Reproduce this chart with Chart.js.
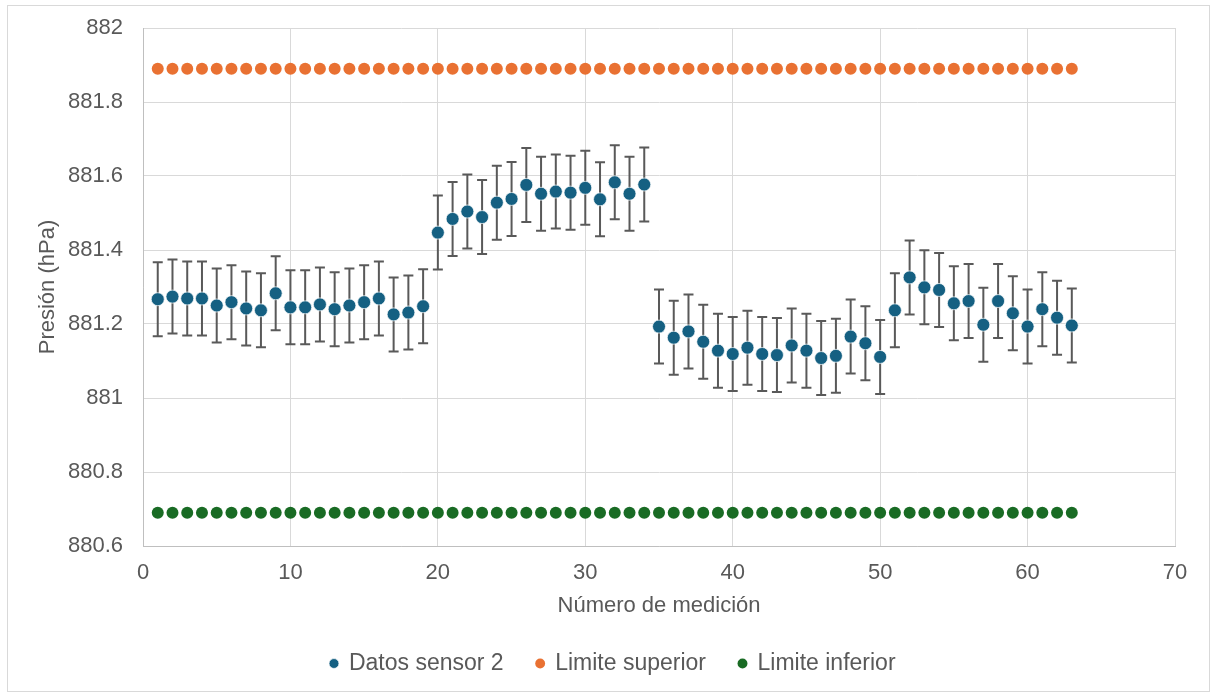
<!DOCTYPE html>
<html>
<head>
<meta charset="utf-8">
<script src="https://cdn.jsdelivr.net/npm/chart.js@4.4.1/dist/chart.umd.min.js"></script>
<style>
  html, body { margin: 0; padding: 0; background: #fff; }
  #wrap { position: relative; width: 1210px; height: 694px; }
  #marco { position: absolute; left: 7px; top: 5px; width: 1201px; height: 685px; border: 1px solid #d9d9d9; pointer-events: none; }
</style>
</head>
<body>
<div id="wrap">
  <canvas id="grafico" width="1210" height="694"></canvas>
  <div id="marco"></div>
</div>
<script>
// Número de medición
const medicion = [1, 2, 3, 4, 5, 6, 7, 8, 9, 10, 11, 12, 13, 14, 15, 16, 17, 18, 19, 20,
  21, 22, 23, 24, 25, 26, 27, 28, 29, 30, 31, 32, 33, 34, 35, 36, 37, 38, 39, 40,
  41, 42, 43, 44, 45, 46, 47, 48, 49, 50, 51, 52, 53, 54, 55, 56, 57, 58, 59, 60,
  61, 62, 63];

const sensor2 = [881.267, 881.274, 881.269, 881.269, 881.250, 881.259, 881.242, 881.237, 881.283, 881.245,
  881.245, 881.253, 881.240, 881.250, 881.259, 881.269, 881.226, 881.231, 881.248, 881.447,
  881.484, 881.504, 881.489, 881.528, 881.538, 881.576, 881.552, 881.558, 881.555, 881.568,
  881.537, 881.583, 881.552, 881.577, 881.193, 881.163, 881.180, 881.152, 881.128, 881.119,
  881.136, 881.119, 881.116, 881.142, 881.128, 881.108, 881.114, 881.166, 881.148, 881.111,
  881.237, 881.326, 881.299, 881.292, 881.256, 881.262, 881.198, 881.262, 881.229, 881.193,
  881.240, 881.217, 881.196];

const errorSensor = 0.1;      // barra de error +/- (hPa)
const limiteSuperior = 881.89;
const limiteInferior = 880.69;

const yTicks = ['880.6', '880.8', '881', '881.2', '881.4', '881.6', '881.8', '882'];
const xTicks = ['0', '10', '20', '30', '40', '50', '60', '70'];

const gris = '#595959';
const fuente = "'Liberation Sans', Arial, sans-serif";

// Barras de error (se dibujan antes que los puntos)
const barrasError = {
  id: 'barrasError',
  beforeDatasetsDraw(chart) {
    const ctx = chart.ctx;
    const meta = chart.getDatasetMeta(0);
    const ys = chart.scales.y;
    ctx.save();
    ctx.strokeStyle = gris;
    ctx.lineWidth = 2;
    meta.data.forEach((pt, i) => {
      const v = sensor2[i];
      const top = ys.getPixelForValue(v + errorSensor);
      const bot = ys.getPixelForValue(v - errorSensor);
      ctx.beginPath();
      ctx.moveTo(pt.x, top); ctx.lineTo(pt.x, bot);
      ctx.moveTo(pt.x - 5, top); ctx.lineTo(pt.x + 5, top);
      ctx.moveTo(pt.x - 5, bot); ctx.lineTo(pt.x + 5, bot);
      ctx.stroke();
    });
    ctx.restore();
  }
};

// la leyenda del original queda un poco a la derecha
const correrLeyenda = {
  id: 'correrLeyenda',
  afterLayout(chart) {
    chart.legend.left += 10;
    chart.legend.right += 10;
  }
};

const ctx = document.getElementById('grafico').getContext('2d');

new Chart(ctx, {
  type: 'scatter',
  data: {
    datasets: [
      {
        label: 'Datos sensor 2',
        data: medicion.map((m, i) => ({ x: m, y: sensor2[i] })),
        backgroundColor: '#156082',
        borderColor: 'rgba(255,255,255,0.7)',
        borderWidth: 1,
        pointRadius: 6.5
      },
      {
        label: 'Limite superior',
        data: medicion.map(m => ({ x: m, y: limiteSuperior })),
        backgroundColor: '#E97132',
        borderColor: '#E97132',
        borderWidth: 0,
        pointRadius: 6
      },
      {
        label: 'Limite inferior',
        data: medicion.map(m => ({ x: m, y: limiteInferior })),
        backgroundColor: '#196B24',
        borderColor: '#196B24',
        borderWidth: 0,
        pointRadius: 6
      }
    ]
  },
  options: {
    responsive: false,
    animation: false,
    layout: { padding: { left: 31, right: 35, top: 28, bottom: 9 } },
    plugins: {
      tooltip: { enabled: false },
      legend: {
        position: 'bottom',
        labels: {
          usePointStyle: true,
          pointStyle: 'circle',
          boxWidth: 7,
          boxHeight: 7,
          padding: 33,
          color: gris,
          font: { family: fuente, size: 23 }
        }
      }
    },
    scales: {
      x: {
        type: 'linear',
        min: 0,
        max: 70,
        afterFit: s => { s.height = 73; },
        ticks: {
          stepSize: 10,
          padding: 14,
          color: gris,
          font: { family: fuente, size: 22 },
          callback: (v) => xTicks[Math.round(v / 10)]
        },
        grid: { color: '#d9d9d9', drawTicks: false },
        border: { color: '#bfbfbf' },
        title: {
          display: true,
          text: 'Número de medición',
          color: gris,
          padding: { top: 4, bottom: 0 },
          font: { family: fuente, size: 22 }
        }
      },
      y: {
        min: 880.6,
        max: 882,
        afterFit: s => { s.width = 112; s.paddingTop = 0; s.paddingBottom = 0; },
        ticks: {
          stepSize: 0.2,
          padding: 20,
          color: gris,
          font: { family: fuente, size: 22 },
          callback: (v) => yTicks[Math.round((v - 880.6) / 0.2)]
        },
        grid: { color: '#d9d9d9', drawTicks: false },
        border: { color: '#bfbfbf' },
        title: {
          display: true,
          text: 'Presión (hPa)',
          color: gris,
          font: { family: fuente, size: 22 }
        }
      }
    }
  },
  plugins: [barrasError, correrLeyenda]
});
</script>
</body>
</html>
